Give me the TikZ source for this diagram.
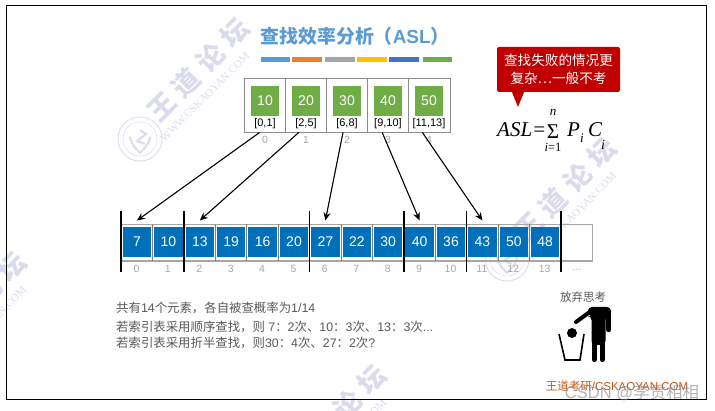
\documentclass[tikz,border=0pt]{standalone}
\usepackage{fontspec}
\setmainfont{Liberation Sans}
\newfontfamily\cjk{Noto Sans CJK SC}
\newfontfamily\tms{Liberation Serif}
\newcommand{\zh}[1]{{\cjk #1}}
\newcommand{\fs}[1]{\fontsize{#1}{#1}\selectfont}
\usetikzlibrary{arrows.meta}
\definecolor{markcol}{HTML}{DADBEC}
\definecolor{txtcol}{HTML}{595959}
\definecolor{idxcol}{HTML}{A6A6A6}
\definecolor{valgreen}{HTML}{70AD47}
\definecolor{cellblue}{HTML}{0070BA}
\definecolor{callred}{HTML}{C00000}
\definecolor{titlecol}{HTML}{5B9BD5}
\definecolor{footcol}{HTML}{C55A11}
\tikzset{
  >={Stealth[length=8pt,width=7pt]},
  box/.style={draw=gray!90,line width=0.9pt,minimum width=41.2pt,minimum height=54pt,inner sep=0pt},
  val/.style={fill=valgreen,text=white,minimum width=28pt,minimum height=30pt,inner sep=0pt,font=\fs{14}},
  cell/.style={fill=cellblue,text=white,minimum width=28.5pt,minimum height=30.6pt,inner sep=0pt,font=\fs{14}},
  idx/.style={text=idxcol,inner sep=0pt,font=\fs{10.5}},
  bar/.style={line width=1.6pt,black},
  info/.style={anchor=west,inner sep=0pt,text=txtcol,font=\fs{12.4}},
  sym/.style={inner sep=0pt,font=\tms\fs{#1}},
  sym/.default={20},
  watermark/.pic={
    \foreach \n/\c in {0/王,1/道,2/论,3/坛} {
      \node[rotate=45,text=markcol,inner sep=0pt,font=\cjk\bfseries\fs{27}] (c\n) at (24.2*\n,-24.6*\n) {\c};
    }
    \node[rotate=45,text=markcol,inner sep=0pt,font=\tms\fs{11}] (www) at (43,-10) {WWW.CSKAOYAN.COM};
    \begin{scope}[shift={(-22,32)}]
      \draw[markcol,line width=0.9pt] (0,0) circle [radius=22];
      \draw[markcol,line width=0.5pt] (0,0) circle [radius=17];
      \draw[markcol,line width=2pt] (-10,-2) .. controls (-8,8) and (-3,10) .. (0,14) .. controls (3,10) and (8,8) .. (10,-2);
      \draw[markcol,line width=2pt] (0,-9) -- (6,-5) -- (-3,2) -- (5,5);
    \end{scope}
  }
}
\begin{document}
\begin{tikzpicture}[x=1pt,y=-1pt]
  \useasboundingbox (0,0) rectangle (715,411);
  % watermarks
  \pic (markA) at (162,107) {watermark};
  \pic (markB) at (529,227) {watermark};
  \pic (markC) at (-61,341) {watermark};
  \pic (markD) at (299,454) {watermark};
  \draw[black,line width=0.8pt] (6,5) rectangle (706,399);
  % title
  \node[inner sep=0pt,text=titlecol,font=\bfseries\fs{18.9}] (title) at (355,36) {\zh{\bfseries 查找效率分析（}ASL\zh{\bfseries ）}};
  \foreach \a/\b/\c in {261/290/5B9BD5,292/322/ED7D31,325/355/A5A5A5,357/387/FFC000,389/419/4472C4,423/452/70AD47} {
    \definecolor{barcol}{HTML}{\c}
    \fill[barcol] (\a,57) rectangle (\b,62);
  }
  % index table
  \foreach \i/\v/\r in {0/10/{[0,1]},1/20/{[2,5]},2/30/{[6,8]},3/40/{[9,10]},4/50/{[11,13]}} {
    \node[box] (idx\i) at (264.6+41.2*\i,105) {};
    \node[val] (val\i) at (265+41*\i,101) {\v};
    \node[inner sep=0pt,font=\fs{11}] (rng\i) at (265+41*\i,124) {\r};
    \node[idx] (num\i) at (265+41*\i,140) {\i};
  }
  % callout
  \node[fill=callred,text=white,rounded corners=2pt,minimum width=123pt,minimum height=45pt,inner sep=0pt,align=center,font=\cjk\fs{13.6}] (callout) at (558.5,69.5) {查找失败的情况更\\[5pt]复杂…一般不考};
  \fill[callred] ([xshift=-46.5pt]callout.south) -- (518,107) -- ([xshift=-34.5pt]callout.south) -- cycle;
  % formula
  \node[sym,anchor=base west,font=\tms\itshape\fs{21}] (asl) at (497,137) {ASL=};
  \node[sym=21] (sum) at (553,132) {\char"03A3};
  \node[sym,font=\tms\itshape\fs{13}] (upper) at (553,112) {n};
  \node[sym=12.5] (lower) at (553,147) {\textit{i}=1};
  \node[sym,anchor=base west,font=\tms\itshape\fs{21}] (pp) at (567,137) {P};
  \node[sym,font=\tms\itshape\fs{13}] (ppi) at (582,138) {i};
  \node[sym,anchor=base west,font=\tms\itshape\fs{21}] (cc) at (588,137) {C};
  \node[sym,font=\tms\itshape\fs{14}] (cci) at (603,145) {i};
  % array
  \draw[idxcol,line width=1.4pt] (121.2,224.5) rectangle (592.7,261);
  \foreach \i in {1,3,4,5,7,8,10,12,13} {
    \draw[gray,line width=0.7pt] (121.2+31.4*\i,224.5) -- (121.2+31.4*\i,261);
  }
  \foreach \i/\v in {0/7,1/10,2/13,3/19,4/16,5/20,6/27,7/22,8/30,9/40,10/36,11/43,12/50,13/48} {
    \node[cell] (el\i) at (137+31.4*\i,242) {\v};
    \node[idx] (lab\i) at (136.5+31.4*\i,269) {\i};
  }
  \node[idx] (more) at (577,270) {...};
  \foreach \i in {0,2,6,9,11,14} {
    \draw[bar] (121.2+31.4*\i,211) -- (121.2+31.4*\i,272);
  }
  % index arrows
  \foreach \i/\j/\d in {0/0/-5,1/2/-7,2/6/-4,3/9/-6,4/11/-7} {
    \draw[->,line width=1.1pt] ([xshift=\d pt]idx\i.south) -- ([yshift=6pt]el\j.north);
  }
  % remarks
  \node[info] (lineA) at (116,308) {\zh{共有}14\zh{个元素，各自被查概率为}1/14};
  \node[info] (lineB) at (116,327) {\zh{若索引表采用顺序查找，则} 7\zh{：}2\zh{次、}10\zh{：}3\zh{次、}13\zh{：}3\zh{次}...};
  \node[info] (lineC) at (116,343) {\zh{若索引表采用折半查找，则}30\zh{：}4\zh{次、}27\zh{：}2\zh{次}?};
  % figure dropping the ball
  \node[inner sep=0pt,text=txtcol,font=\cjk\fs{11.5}] (giveup) at (583,297) {放弃思考};
  \fill[black,rounded corners=4pt] (588,307) -- (611,307) -- (611,316) -- (605.5,316) -- (605.5,345) -- (591.5,345) -- (591.5,316) -- (588,316) -- cycle;
  \draw[black,line width=5.2pt,line cap=round] (594.5,340) -- (594.5,359.5);
  \draw[black,line width=5.2pt,line cap=round] (602.5,340) -- (602.5,359.5);
  \draw[black,line width=4.4pt,line cap=round] (608.6,312) -- (608.6,330);
  \draw[black,line width=4pt,line cap=round] (591,311) -- (576,322);
  \fill[black] (572,333) circle [radius=5];
  \draw[black,line width=1.6pt] (559,334) -- (565,360) -- (580,360) -- (584,334);
  % footer
  \node[inner sep=0pt,text=footcol,font=\fs{11.5}] (footer) at (617,386) {\zh{王道考研}/CSKAOYAN.COM};
  \node[inner sep=0pt,text=gray,opacity=0.6,font=\fs{16.5}] (csdn) at (632,393) {CSDN @\zh{李贯相相}};
\end{tikzpicture}
\end{document}
